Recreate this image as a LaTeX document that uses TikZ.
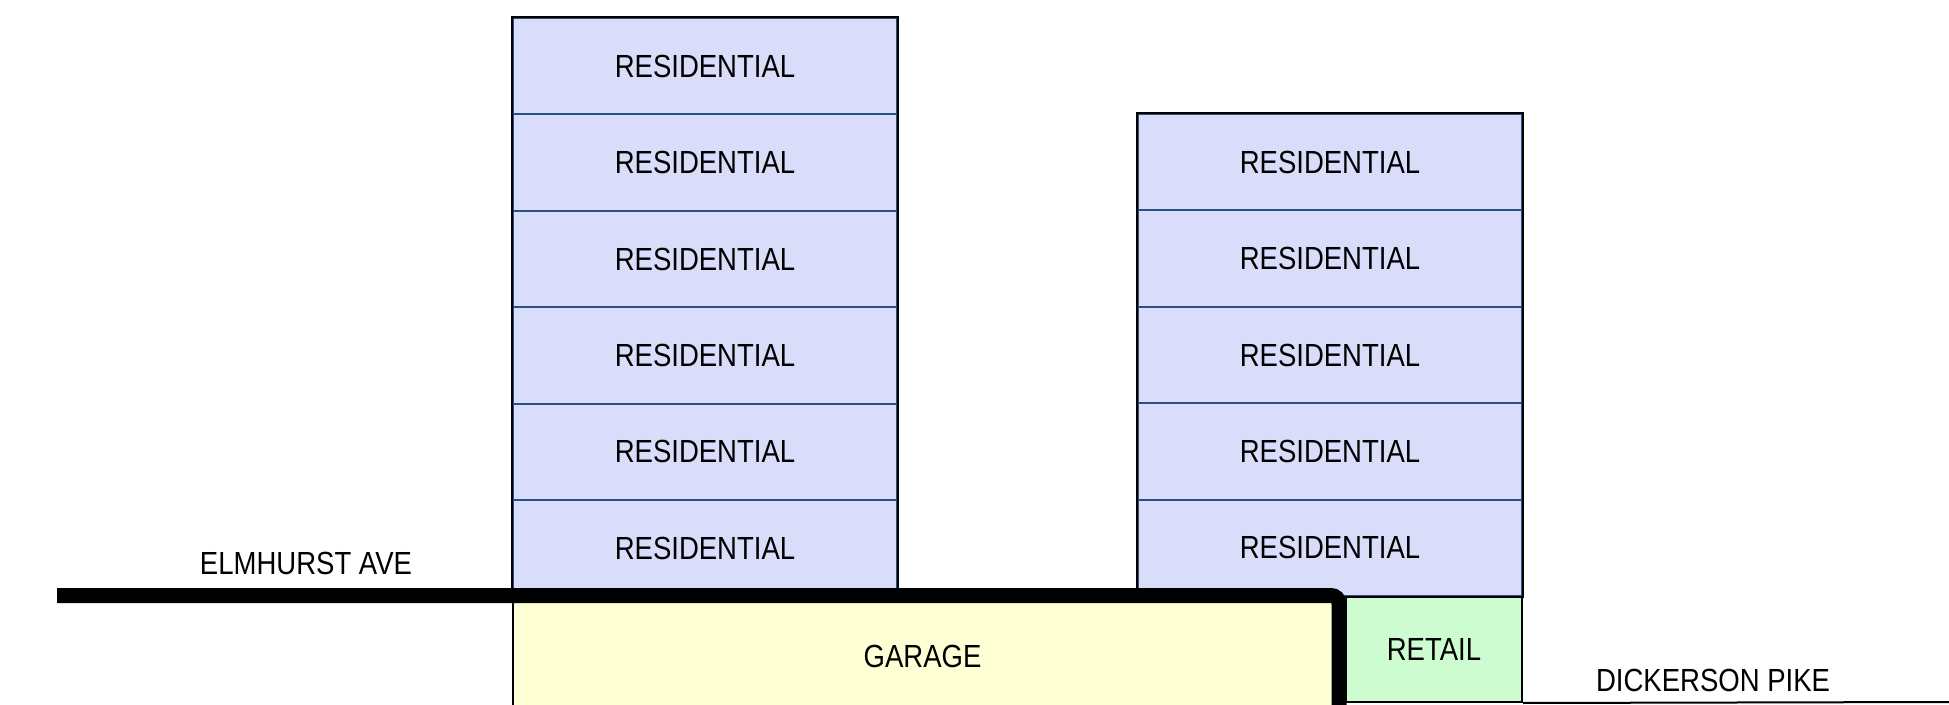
\documentclass[tikz,border=0pt]{standalone}
\usepackage{fontspec}
\setmainfont{Liberation Sans}[FakeStretch=0.86]
\definecolor{floorblue}{RGB}{218,221,250}
\definecolor{floorline}{RGB}{40,80,130}
\definecolor{garageyellow}{RGB}{255,255,213}
\definecolor{retailgreen}{RGB}{204,252,208}
\tikzset{
  plan-text/.style={
    font=\fontsize{16}{19}\selectfont,
    inner sep=0pt
  },
  frame/.style={draw=black, line width=1pt},
  floor/.style={plan-text, rectangle, fill=floorblue, draw=floorline, line width=1pt,
    minimum width=192pt, minimum height=48.2pt},
  garage/.style={plan-text, rectangle, fill=garageyellow,
    minimum width=409.5pt, minimum height=60pt},
  retail/.style={plan-text, rectangle, fill=retailgreen, frame,
    minimum width=88pt, minimum height=53pt},
  street/.style={line width=7.5pt, draw=black, rounded corners=4pt}
}

\begin{document}
\begin{tikzpicture}[x=0.5pt, y=-0.5pt]
  \useasboundingbox (0,0) rectangle (1949,705);
  % Garage below street level
  \node[garage] (garage) at (922.5,656) {GARAGE};
  \draw[frame] (garage.north west) -- (garage.south west);
  % Retail on the corner
  \node[retail] (retail) at (1434,649) {RETAIL};
  % West tower
  \foreach \i in {0,...,5}
    \node[floor] (west\i) at (705,{18+96.4*(\i+0.5)}) {RESIDENTIAL};
  \draw[frame] (west5.south west) -- (west0.north west) -- (west0.north east) -- (west5.south east);
  % East tower
  \foreach \i in {0,...,4}
    \node[floor] (east\i) at (1330,{114+96.4*(\i+0.5)}) {RESIDENTIAL};
  \draw[frame] (east4.south west) rectangle (east0.north east);
  % Streets
  \coordinate (elm-start) at (57,595.5);
  \coordinate (elm-corner) at (1339,595.5);
  \coordinate (elm-end) at (1339,712);
  \draw[street] (elm-start) -- (elm-corner) -- (elm-end);
  \coordinate (pike-end) at (1949,702);
  \draw[frame] (retail.south east) -- (pike-end);
  \node[plan-text] (elmhurst) at (306,563) {ELMHURST AVE};
  \node[plan-text] (dickerson) at (1713,680) {DICKERSON PIKE};
\end{tikzpicture}
\end{document}
